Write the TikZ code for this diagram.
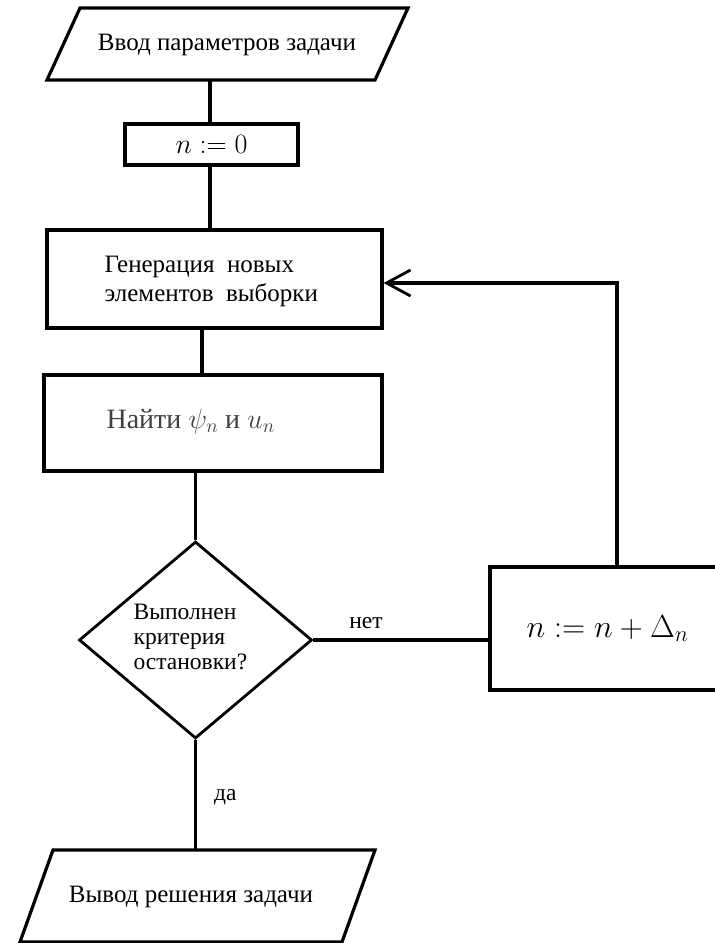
\documentclass[tikz,border=0pt]{standalone}
\usepackage{fix-cm}
\usepackage{fontspec}
\setmainfont{Liberation Serif}
\usetikzlibrary{shapes.geometric,arrows.meta}
\begin{document}
\begin{tikzpicture}[x=1pt,y=-1pt,
  line width=3.2pt,
  box/.style={draw, rectangle, inner sep=0pt},
  lbl/.style={font=\fontsize{25}{29}\selectfont, align=left, inner sep=0pt}]
\useasboundingbox (0,0) rectangle (715,943);
% input parallelogram
\coordinate (inBL) at (47,80);
\coordinate (inTL) at (80,8);
\coordinate (inTR) at (408,8);
\coordinate (inBR) at (375,80);
\draw (inBL) -- (inTL) -- (inTR) -- (inBR) -- cycle;
\node[lbl] (intext) at (227,45) {Ввод параметров задачи};
\coordinate (inbot) at (210,80);
% n := 0
\node[box, minimum width=173pt, minimum height=41pt, font=\fontsize{28}{32}\selectfont] (n0) at (211.5,144.5) {$n:=0$\hspace{14pt}};
% generation box
\node[box, minimum width=335pt, minimum height=98pt] (gen) at (214.5,279) {};
\node[lbl, anchor=west, font=\fontsize{25}{29}\selectfont] (gentext) at (103,281) {Генерация\ \ новых\\элементов\ \ выборки};
% find box
\node[box, minimum width=338pt, minimum height=96pt] (find) at (213,423) {};
\node[lbl, anchor=west, font=\fontsize{28}{31}\selectfont, text=black!75] (findtext) at (105,421) {Найти $\psi_n$ и $u_n$};
% decision
\node[draw, diamond, minimum width=233pt, minimum height=197pt, inner sep=0pt, line width=2.8pt] (dia) at (195.5,640) {};
\node[lbl, anchor=west, font=\fontsize{23.5}{25}\selectfont] (diatext) at (132,637) {Выполнен\\критерия\\остановки?};
% increment box
\node[box, minimum width=235pt, minimum height=123pt, font=\fontsize{32}{36}\selectfont] (inc) at (607.5,628.5) {$n:=n+\Delta_n$};
% output parallelogram
\coordinate (outTL) at (53,850);
\coordinate (outTR) at (375,850);
\coordinate (outBR) at (342,942);
\coordinate (outBL) at (20,942);
\draw (outTL) -- (outTR) -- (outBR) -- (outBL) -- cycle;
\node[lbl] (outtext) at (191,897) {Вывод решения задачи};
\coordinate (outtop) at (195.5,850);
% connectors
\draw (inbot) -- (inbot |- n0.north);
\draw (n0.south -| inbot) -- (inbot |- gen.north);
\draw ([xshift=-12.5pt]gen.south) -- ([xshift=-12.5pt]gen.south |- find.north);
\draw (find.south -| dia.north) -- (dia.north);
\draw (dia.east) -- (dia.east -| inc.west) node[lbl, pos=0.3, above=10pt, font=\fontsize{23.5}{25}\selectfont] {нет};
\draw (dia.south) -- (outtop) node[lbl, pos=0.52, right=17pt, font=\fontsize{23.5}{25}\selectfont] {да};
\coordinate (loopc) at (617,283);
\draw[-{Straight Barb[length=24pt,width=26pt,line width=2.8pt]}] (inc.north -| loopc) -- (loopc) -- (loopc -| gen.east);
\end{tikzpicture}
\end{document}
